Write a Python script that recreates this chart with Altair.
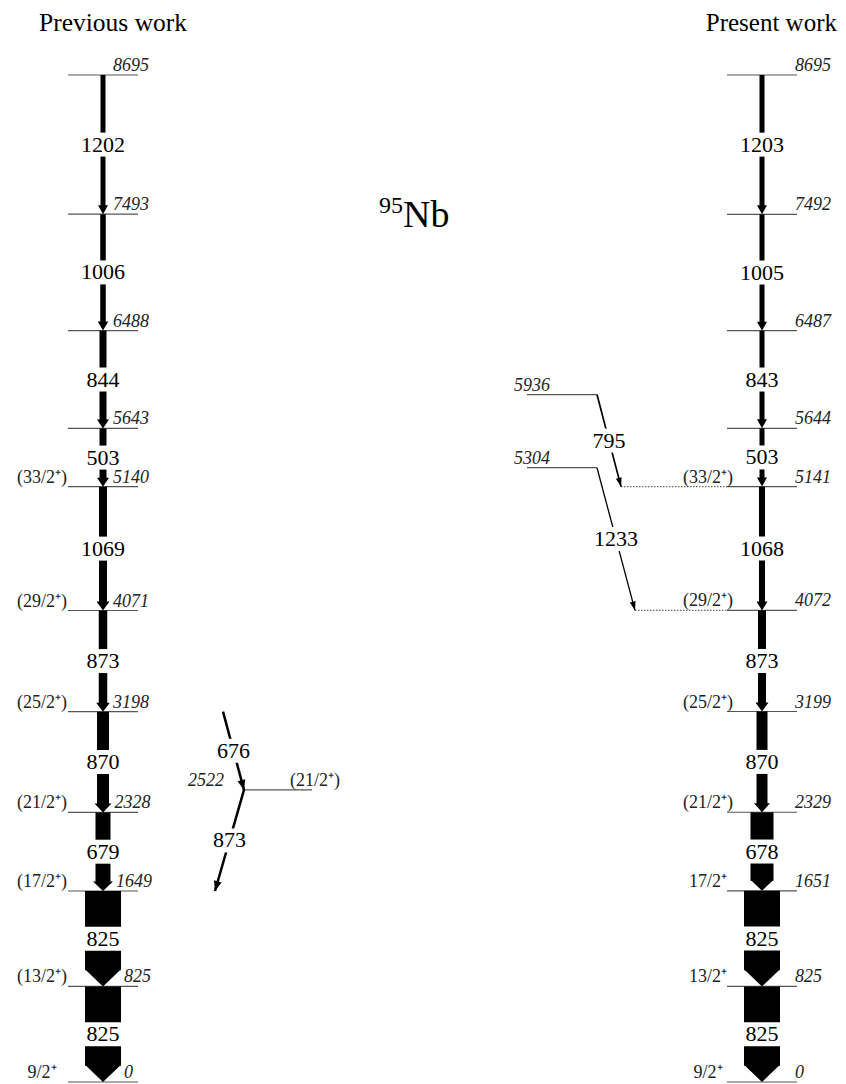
import math
import altair as alt
import pandas as pd

# ---------------- data ----------------
# Previous work (left column)
prev_levels = [0, 825, 1649, 2328, 3198, 4071, 5140, 5643, 6488, 7493, 8695]
prev_spins = ["9/2⁺", "(13/2⁺)", "(17/2⁺)", "(21/2⁺)", "(25/2⁺)", "(29/2⁺)", "(33/2⁺)", "", "", "", ""]
prev_gammas = [1202, 1006, 844, 503, 1069, 873, 870, 679, 825, 825]
prev_gamma_from = [8695, 7493, 6488, 5643, 5140, 4071, 3198, 2328, 1649, 825]
prev_gamma_to = [7493, 6488, 5643, 5140, 4071, 3198, 2328, 1649, 825, 0]
prev_intensity = [5, 5.5, 7, 7, 8, 8.5, 12, 15, 36, 36]

prev_side_levels = [2522]
prev_side_spins = ["(21/2⁺)"]
prev_side_gammas = [676, 873]
prev_side_from = [3198, 2522]
prev_side_to = [2522, 1649]

# Present work (right column)
pres_levels = [0, 825, 1651, 2329, 3199, 4072, 5141, 5644, 6487, 7492, 8695]
pres_spins = ["9/2⁺", "13/2⁺", "17/2⁺", "(21/2⁺)", "(25/2⁺)", "(29/2⁺)", "(33/2⁺)", "", "", "", ""]
pres_gammas = [1203, 1005, 843, 503, 1068, 873, 870, 678, 825, 825]
pres_gamma_from = [8695, 7492, 6487, 5644, 5141, 4072, 3199, 2329, 1651, 825]
pres_gamma_to = [7492, 6487, 5644, 5141, 4072, 3199, 2329, 1651, 825, 0]
pres_intensity = [5, 5, 5, 5, 6, 8, 11, 23, 36, 36]

pres_side_levels = [5936, 5304]
pres_side_gammas = [795, 1233]
pres_side_from = [5936, 5304]
pres_side_to = [5141, 4072]

# ---------------- layout (page pixels) ----------------
E_MAX = 8695
Y_RANGE = [1074, 67]            # chart px for E=0 and E=E_MAX
K = (Y_RANGE[0] - Y_RANGE[1]) / E_MAX   # px per keV
LX, RX = 103, 762               # arrow columns
HALF = 35                       # half length of level lines
SERIF = "Liberation Serif"
W = 830

xs = alt.Scale(domain=[8, 8 + W], range=[0, W])
ys = alt.Scale(domain=[0, E_MAX], range=Y_RANGE)


def X(f):
    return alt.X(f, type="quantitative", scale=xs, axis=None)


def Y(f):
    return alt.Y(f, type="quantitative", scale=ys, axis=None)


def head_geom(w):
    b = w + 5 if w < 20 else w
    h = max(9.0, 0.48 * b)
    return b, h


def tri_path(b, h):
    r = 2 * h / b
    return f"M-1,-{r:.3f}L1,-{r:.3f}L0,0Z"


levels, elabels, elabels_r, spins = [], [], [], []
shafts, heads, gaps, glabels, slants, dots = [], [], [], [], [], []


def column(xc, lv, sp, g, gf, gt, inten, elab_x, spin_x):
    incoming = {}
    for gam, a, b_, w in zip(g, gf, gt, inten):
        b, h = head_geom(w)
        incoming[b_] = b
        shafts.append(dict(x1=xc - w / 2, x2=xc + w / 2, E1=a, E2=b_ + (h - 1) / K))
        heads.append(dict(x=xc, E=b_, size=b * b, path=tri_path(b, h), angle=0))
        gw = max(w, b) / 2 + 2
        gaps.append(dict(x1=xc - gw, x2=xc + gw, Em=(a + b_) / 2))
        glabels.append(dict(x=xc, Em=(a + b_) / 2, t=str(gam)))
    for e, s in zip(lv, sp):
        levels.append(dict(x1=xc - HALF, x2=xc + HALF, E=e))
        if elab_x is None:
            lx = xc + max(7, incoming.get(e, 0) / 2) + 3
        else:
            lx = elab_x
        elabels.append(dict(x=lx, E=e, t=str(e)))
        if s:
            spins.append(dict(x=spin_x, E=e, t=s))


column(LX, prev_levels, prev_spins, prev_gammas, prev_gamma_from, prev_gamma_to,
       prev_intensity, None, 42)
column(RX, pres_levels, pres_spins, pres_gammas, pres_gamma_from, pres_gamma_to,
       pres_intensity, 795, 708)


def slant(x1, e1, x2, e2, gam, sw, hb, hh):
    slants.append(dict(x1=x1, x2=x2, E1=e1, E2=e2, sw=sw))
    dx = x2 - x1
    dy = (e1 - e2) * K
    ang = math.degrees(math.atan2(-dx, dy)) % 360
    heads.append(dict(x=x2, E=e2, size=hb * hb, path=tri_path(hb, hh), angle=ang))
    xm = (x1 + x2) / 2
    gaps.append(dict(x1=xm - 7, x2=xm + 7, Em=(e1 + e2) / 2))
    glabels.append(dict(x=xm, Em=(e1 + e2) / 2, t=str(gam)))


# previous work side branch
slant(223, prev_side_from[0], 244, prev_side_to[0], prev_side_gammas[0], 2.5, 8, 10)
slant(244, prev_side_from[1], 215, prev_side_to[1], prev_side_gammas[1], 2.5, 8, 10)
levels.append(dict(x1=244, x2=312, E=prev_side_levels[0]))
elabels_r.append(dict(x=224, E=prev_side_levels[0], t=str(prev_side_levels[0])))
spins.append(dict(x=315, E=prev_side_levels[0], t=prev_side_spins[0]))

# present work side branch
for e in pres_side_levels:
    levels.append(dict(x1=527, x2=597, E=e))
    elabels.append(dict(x=514, E=e, t=str(e)))
slant(597, pres_side_from[0], 621, pres_side_to[0], pres_side_gammas[0], 1.7, 6, 9)
slant(597, pres_side_from[1], 635, pres_side_to[1], pres_side_gammas[1], 1.3, 6, 9)
dots.append(dict(x1=621, x2=RX - HALF, E=pres_side_to[0]))
dots.append(dict(x1=635, x2=RX - HALF, E=pres_side_to[1]))

df = pd.DataFrame

lvl = alt.Chart(df(levels)).mark_rule(color="#555", strokeWidth=1.2).encode(
    x=X("x1"), x2="x2", y=Y("E"))
dot = alt.Chart(df(dots)).mark_rule(color="#666", strokeWidth=1.2, strokeDash=[1.5, 1.5]).encode(
    x=X("x1"), x2="x2", y=Y("E"))
shf = alt.Chart(df(shafts)).mark_rect(color="black").encode(
    x=X("x1"), x2="x2", y=Y("E1"), y2="E2")
sln = alt.Chart(df(slants)).mark_rule(color="black").encode(
    x=X("x1"), x2="x2", y=Y("E1"), y2="E2",
    strokeWidth=alt.StrokeWidth("sw:Q", scale=None))
hd = alt.Chart(df(heads)).mark_point(filled=True, opacity=1, color="black", strokeWidth=0).encode(
    x=X("x"), y=Y("E"),
    shape=alt.Shape("path:N", scale=None),
    size=alt.Size("size:Q", scale=None),
    angle=alt.Angle("angle:Q", scale=None))
gp = alt.Chart(df(gaps)).mark_rect(color="white", yOffset=-12, y2Offset=12).encode(
    x=X("x1"), x2="x2", y=Y("Em"), y2="Em")
gl = alt.Chart(df(glabels)).mark_text(font=SERIF, fontSize=22, baseline="middle",
                                       align="center", color="black").encode(
    x=X("x"), y=Y("Em"), text="t:N")
el = alt.Chart(df(elabels)).mark_text(font=SERIF, fontSize=18, fontStyle="italic",
                                      baseline="alphabetic", align="left", dy=-4,
                                      color="#222").encode(
    x=X("x"), y=Y("E"), text="t:N")
elr = alt.Chart(df(elabels_r)).mark_text(font=SERIF, fontSize=18, fontStyle="italic",
                                         baseline="alphabetic", align="right", dy=-4,
                                         color="#222").encode(
    x=X("x"), y=Y("E"), text="t:N")
sp = alt.Chart(df(spins)).mark_text(font=SERIF, fontSize=18, baseline="alphabetic",
                                    align="center", dy=-4, color="#222").encode(
    x=X("x"), y=Y("E"), text="t:N")

titles = pd.DataFrame({"t": ["Previous work", "Present work"]})
t1 = alt.Chart(titles.iloc[[0]]).mark_text(font=SERIF, fontSize=25.5, align="left",
                                           baseline="alphabetic", color="black").encode(
    x=alt.value(31), y=alt.value(23), text="t:N")
t2 = alt.Chart(titles.iloc[[1]]).mark_text(font=SERIF, fontSize=25, align="right",
                                           baseline="alphabetic", color="black").encode(
    x=alt.value(829), y=alt.value(23), text="t:N")
nuc = pd.DataFrame({"a": ["95"], "s": ["Nb"]})
n1 = alt.Chart(nuc).mark_text(font=SERIF, fontSize=24, align="right", baseline="alphabetic",
                              color="black").encode(x=alt.value(395), y=alt.value(205), text="a:N")
n2 = alt.Chart(nuc).mark_text(font=SERIF, fontSize=38, align="left", baseline="alphabetic",
                              color="black").encode(x=alt.value(395), y=alt.value(219), text="s:N")

chart = alt.layer(lvl, dot, shf, sln, hd, gp, gl, el, elr, sp, t1, t2, n1, n2).properties(
    width=W, height=1076, padding=0, autosize="none"
).configure_view(stroke=None)

chart.save("out.html", embed_options={"renderer": "svg", "actions": False})
